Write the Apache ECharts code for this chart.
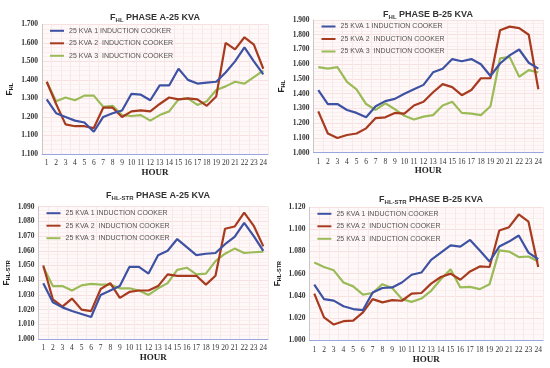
<!DOCTYPE html>
<html><head><meta charset="utf-8">
<script src="https://cdn.jsdelivr.net/npm/echarts@6/dist/echarts.min.js"></script>
<style>html,body{margin:0;padding:0;background:#fff}#c{width:550px;height:368px}</style>
</head><body><div id="c"></div>
<script>
const hours = ['1','2','3','4','5','6','7','8','9','10','11','12','13','14','15','16','17','18','19','20','21','22','23','24'];
const seriesNames = ['25 KVA 1 INDUCTION COOKER','25 KVA 2  INDUCTION COOKER','25 KVA 3  INDUCTION COOKER'];

// Panel 1: F_HL phase A
const hlA1 = [1.295,1.22,1.20,1.18,1.17,1.12,1.20,1.22,1.235,1.325,1.32,1.29,1.37,1.37,1.46,1.40,1.38,1.385,1.39,1.44,1.50,1.575,1.50,1.43];
const hlA2 = [1.39,1.27,1.16,1.15,1.15,1.14,1.25,1.25,1.20,1.23,1.235,1.23,1.27,1.305,1.295,1.30,1.295,1.26,1.31,1.60,1.565,1.63,1.59,1.46];
const hlA3 = [1.39,1.285,1.305,1.29,1.315,1.315,1.255,1.26,1.21,1.205,1.21,1.18,1.21,1.23,1.295,1.30,1.265,1.285,1.345,1.365,1.39,1.38,1.415,1.45];
// Panel 2: F_HL phase B
const hlB1 = [1.425,1.33,1.33,1.29,1.27,1.24,1.315,1.35,1.365,1.40,1.43,1.46,1.545,1.57,1.635,1.62,1.635,1.60,1.52,1.605,1.66,1.70,1.61,1.57];
const hlB2 = [1.28,1.13,1.10,1.12,1.13,1.165,1.235,1.24,1.27,1.265,1.32,1.345,1.41,1.465,1.445,1.39,1.425,1.505,1.505,1.83,1.855,1.845,1.80,1.43];
const hlB3 = [1.58,1.57,1.58,1.48,1.43,1.33,1.29,1.335,1.295,1.25,1.225,1.245,1.255,1.32,1.345,1.27,1.265,1.255,1.315,1.64,1.65,1.515,1.56,1.545];
// Panel 3: F_HL-STR phase A
const strA1 = [1.038,1.025,1.0215,1.019,1.017,1.015,1.030,1.033,1.036,1.049,1.049,1.0445,1.057,1.060,1.068,1.0625,1.057,1.058,1.0585,1.0645,1.0695,1.079,1.070,1.060];
const strA2 = [1.050,1.027,1.022,1.0275,1.020,1.019,1.034,1.038,1.028,1.032,1.033,1.033,1.036,1.044,1.043,1.043,1.043,1.037,1.043,1.075,1.0765,1.086,1.077,1.063];
const strA3 = [1.049,1.036,1.036,1.033,1.0365,1.0375,1.037,1.037,1.0345,1.0345,1.033,1.030,1.0345,1.038,1.047,1.0485,1.044,1.0445,1.053,1.058,1.0615,1.0585,1.059,1.0595];
// Panel 4: F_HL-STR phase B
const strB1 = [1.050,1.037,1.0356,1.0305,1.028,1.027,1.043,1.047,1.0475,1.052,1.059,1.061,1.0725,1.079,1.0855,1.0845,1.0905,1.081,1.071,1.0845,1.089,1.0945,1.079,1.073];
const strB2 = [1.042,1.0205,1.014,1.017,1.0175,1.025,1.037,1.034,1.036,1.0355,1.042,1.0425,1.051,1.057,1.060,1.0545,1.062,1.0665,1.066,1.099,1.102,1.1135,1.107,1.066];
const strB3 = [1.070,1.066,1.063,1.052,1.0485,1.041,1.0425,1.0505,1.047,1.037,1.0345,1.0375,1.0445,1.055,1.064,1.0475,1.048,1.046,1.0505,1.081,1.080,1.075,1.0755,1.071];

const colors = ['#3e52a3','#a63b1f','#9bbb59'];

const panels = [
  {sub:'HL', tail:' PHASE A-25 KVA', data:[hlA1,hlA2,hlA3], min:1.0, max:1.7, interval:0.1, fmt:v=> (Math.abs(v-1.0)<1e-9 ? '1.100' : v.toFixed(3)),
   grid:{left:42, top:24.3, width:226, height:129.7}, titleX:150, titleY:8, xLabelMargin:5, hourGap:13, yNameGap:28},
  {sub:'HL', tail:' PHASE B-25 KVA', data:[hlB1,hlB2,hlB3], min:1.0, max:1.9, interval:0.1, fmt:v=>v.toFixed(3),
   grid:{left:313.5, top:20, width:229.6, height:132.7}, titleX:423, titleY:5, xLabelMargin:5, hourGap:12, yNameGap:27},
  {sub:'HL-STR', tail:' PHASE A-25 KVA', data:[strA1,strA2,strA3], min:1.0, max:1.09, interval:0.01, fmt:v=>v.toFixed(3),
   grid:{left:38.5, top:206.7, width:229.6, height:132.3}, titleX:153, titleY:186, xLabelMargin:5, hourGap:13, yNameGap:27},
  {sub:'HL-STR', tail:' PHASE B-25 KVA', data:[strB1,strB2,strB3], min:1.0, max:1.12, interval:0.02, fmt:v=>v.toFixed(3),
   grid:{left:309.4, top:207.3, width:233.7, height:132.7}, titleX:426, titleY:190, xLabelMargin:6, hourGap:13, yNameGap:27}
];

const grids=[], xAxes=[], yAxes=[], series=[], titles=[], legends=[];
panels.forEach((p,i)=>{
  grids.push(Object.assign({show:true, backgroundColor:'#fff8f8', borderWidth:0}, p.grid));
  titles.push({
    text:'{f|F}{s|'+p.sub+'}{f|'+p.tail+'}', left:p.titleX, top:p.titleY, textAlign:'center',
    textStyle:{rich:{
      f:{fontFamily:'Liberation Sans',fontWeight:'bold',fontSize:9,color:'#333'},
      s:{fontFamily:'Liberation Sans',fontWeight:'bold',fontSize:6,color:'#333',verticalAlign:'bottom',padding:[4,0,0,0]}
    }}
  });
  xAxes.push({
    type:'category', gridIndex:i, data:hours, boundaryGap:true,
    name:'HOUR', nameLocation:'middle', nameGap:p.hourGap,
    nameTextStyle:{fontFamily:'Liberation Serif',fontWeight:'bold',fontSize:9,color:'#222'},
    axisLine:{lineStyle:{color:'#9aa6e0',width:1}}, axisTick:{show:false},
    axisLabel:{fontFamily:'Liberation Serif',fontSize:7.5,color:'#333',margin:p.xLabelMargin,interval:0},
    splitLine:{show:true,lineStyle:{color:'#f9e8e8',width:1}}
  });
  yAxes.push({
    type:'value', gridIndex:i, min:p.min, max:p.max, interval:p.interval,
    name:'{f|F}{s|'+p.sub+'}', nameLocation:'middle', nameGap:p.yNameGap, nameRotate:90,
    nameTextStyle:{rich:{
      f:{fontFamily:'Liberation Sans',fontWeight:'bold',fontSize:8.5,color:'#222'},
      s:{fontFamily:'Liberation Sans',fontWeight:'bold',fontSize:5.5,color:'#222',verticalAlign:'bottom',padding:[3,0,0,0]}
    }},
    axisLine:{show:true,lineStyle:{color:'#c8c8c8'}}, axisTick:{show:false},
    axisLabel:{fontFamily:'Liberation Serif',fontWeight:'bold',fontSize:7.5,color:'#333',margin:4,formatter:p.fmt},
    splitLine:{show:true,lineStyle:{color:'#f6e0e0',width:1}},
    minorTick:{show:false,splitNumber:4},
    minorSplitLine:{show:true,lineStyle:{color:'#fbeeee',width:1}}
  });
  p.data.forEach((d,k)=>{
    series.push({
      name:seriesNames[k], type:'line', xAxisIndex:i, yAxisIndex:i, data:d,
      symbol:'none', smooth:false, lineStyle:{width:2.2,color:colors[k]}, itemStyle:{color:colors[k]},
      z:3-k
    });
  });
  legends.push({
    data:seriesNames, orient:'vertical', left:p.grid.left+8, top:p.grid.top+3,
    itemWidth:14, itemHeight:2, itemGap:5.5, icon:'rect',
    textStyle:{fontFamily:'Liberation Sans',fontSize:7,color:'#555'}, padding:0, selectedMode:false
  });
});

const chart = echarts.init(document.getElementById('c'), null, {renderer:'canvas'});
chart.setOption({
  animation:false, backgroundColor:'#ffffff',
  title:titles, legend:legends, grid:grids, xAxis:xAxes, yAxis:yAxes, series:series
});
</script></body></html>
